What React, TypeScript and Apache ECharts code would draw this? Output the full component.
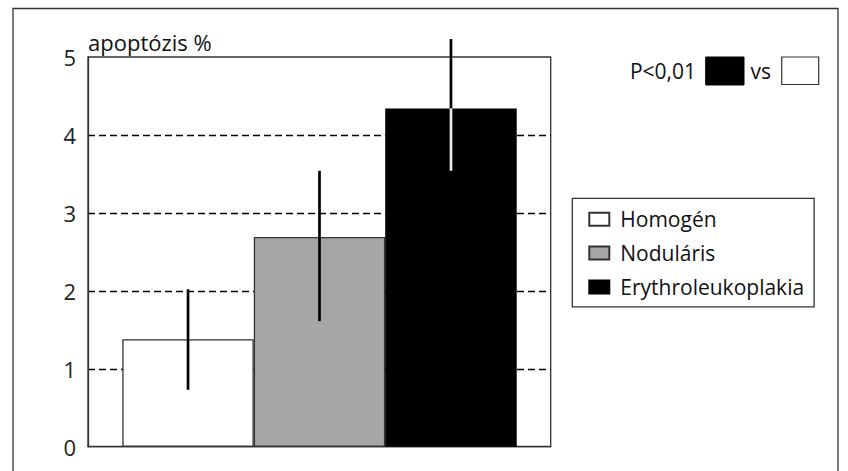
import React, { useEffect, useRef } from "react";
import * as echarts from "echarts";

const categories = ["Homogén", "Noduláris", "Erythroleukoplakia"];
const means = [1.38, 2.69, 4.34];
const lows = [0.73, 1.61, 3.54];
const highs = [2.02, 3.54, 5.23];
const yTicks = [0, 1, 2, 3, 4, 5];
const yAxisTitle = "apoptózis %";
const pText = "P<0,01";
const vsText = "vs";

const FONT = "Open Sans";
const FS = 21;
const fills = ["#ffffff", "#a6a6a6", "#000000"];
const borders = ["#333333", "#333333", "#000000"];

export default function App() {
  const ref = useRef<HTMLDivElement>(null);
  useEffect(() => {
    if (!ref.current) return;
    const chart = echarts.init(ref.current, undefined, { renderer: "svg" });
    const barSeries = categories.map((name, i) => ({
      name,
      type: "bar",
      xAxisIndex: 1,
      yAxisIndex: 1,
      stack: "all",
      barWidth: "100%",
      data: categories.map((_, j) => (j === i ? means[i] : "-")),
      itemStyle: { color: fills[i], borderColor: borders[i], borderWidth: 1.3 },
      z: 2,
    }));
    const errData = categories.map((_, i) => [i, lows[i], highs[i], means[i]]);
    chart.setOption({
      animation: false,
      textStyle: { fontFamily: FONT },
      grid: [
        { left: 88, right: 297.3, top: 57, bottom: 24.3, show: true, borderColor: "#333", borderWidth: 1.3, backgroundColor: "transparent" },
        { left: 122.3, right: 331.3, top: 57, bottom: 24.3 },
      ],
      xAxis: [
        { type: "category", gridIndex: 0, data: [""], axisLine: { show: true, lineStyle: { color: "#333", width: 1.3 } }, axisTick: { show: false }, axisLabel: { show: false } },
        { type: "category", gridIndex: 1, data: categories, show: false },
      ],
      yAxis: [
        {
          type: "value",
          gridIndex: 0,
          min: yTicks[0],
          max: yTicks[yTicks.length - 1],
          interval: 1,
          name: yAxisTitle,
          nameLocation: "end",
          nameGap: 4,
          nameTextStyle: { align: "left", verticalAlign: "bottom", fontSize: 22, color: "#111", fontFamily: FONT, padding: [0, 0, 0, 0] },
          axisLine: { show: true, lineStyle: { color: "#333", width: 1.3 } },
          axisTick: { show: false },
          axisLabel: { fontSize: 22, color: "#222", margin: 12, fontFamily: FONT },
          splitLine: { show: true, showMinLine: false, showMaxLine: false, lineStyle: { color: "#000", width: 1.3, type: [7, 4] } },
        },
        { type: "value", gridIndex: 1, min: yTicks[0], max: yTicks[yTicks.length - 1], show: false },
      ],
      legend: {
        orient: "vertical",
        left: 572.3,
        top: 198.3,
        data: categories,
        icon: "rect",
        itemWidth: 20,
        itemHeight: 13,
        itemGap: 9.8,
        padding: [9, 10, 8, 16],
        borderColor: "#333",
        borderWidth: 1.3,
        selectedMode: false,
        textStyle: { fontSize: FS, color: "#111", fontFamily: FONT, lineHeight: 24, padding: [0, 0, 0, 6] },
      },
      series: [
        ...barSeries,
        {
          type: "custom",
          xAxisIndex: 1,
          yAxisIndex: 1,
          clip: false,
          z: 5,
          data: errData,
          renderItem: (params: any, api: any) => {
            const i = api.value(0);
            const lo = api.coord([i, api.value(1)]);
            const hi = api.coord([i, api.value(2)]);
            const mid = api.coord([i, api.value(3)]);
            const innerColor = i === 2 ? "#e8e8e8" : "#000";
            return {
              type: "group",
              children: [
                { type: "line", shape: { x1: hi[0], y1: hi[1], x2: mid[0], y2: mid[1] }, style: { stroke: "#000", lineWidth: 2.7 } },
                { type: "line", shape: { x1: mid[0], y1: mid[1], x2: lo[0], y2: lo[1] }, style: { stroke: innerColor, lineWidth: 2.7 } },
              ],
            };
          },
        },
      ],
      graphic: [
        { type: "rect", shape: { x: 13, y: 8.5, width: 825, height: 500 }, style: { fill: "none", stroke: "#333", lineWidth: 1.3 }, z: -10 },
        { type: "text", x: 696, y: 71, style: { text: pText, fontSize: FS, fontFamily: FONT, fill: "#111", align: "right", verticalAlign: "middle" } },
        { type: "rect", shape: { x: 705.7, y: 57, width: 38.3, height: 28 }, style: { fill: "#000", stroke: "#000", lineWidth: 1 } },
        { type: "text", x: 750.5, y: 71, style: { text: vsText, fontSize: FS, fontFamily: FONT, fill: "#111", align: "left", verticalAlign: "middle" } },
        { type: "rect", shape: { x: 781.7, y: 57, width: 37, height: 27.5 }, style: { fill: "#fff", stroke: "#333", lineWidth: 1.2 } },
      ],
    });
    return () => chart.dispose();
  }, []);
  return <div ref={ref} style={{ position: "absolute", left: 0, top: 0, width: 848, height: 471 }} />;
}
